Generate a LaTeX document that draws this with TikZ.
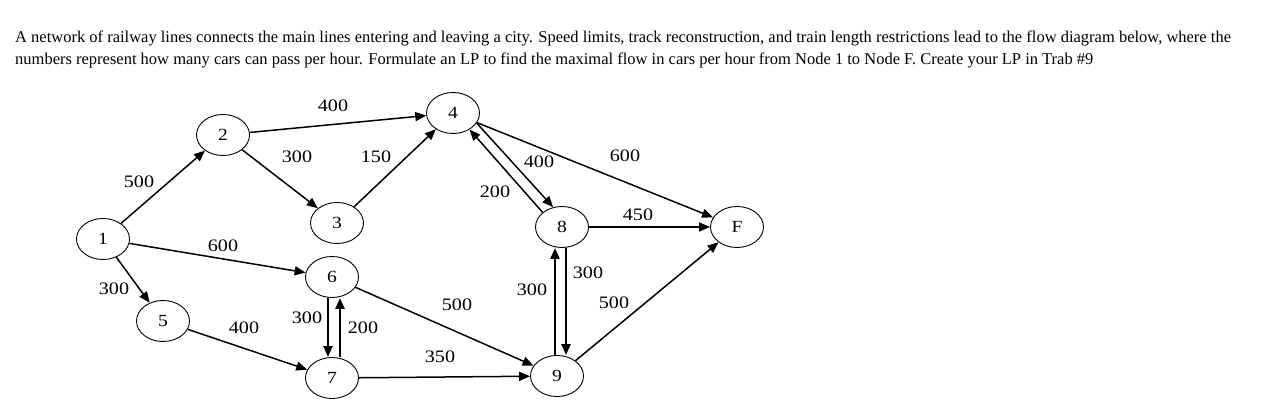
\documentclass[tikz,border=0pt]{standalone}
\usepackage{fontspec}
\setmainfont{Liberation Serif}
\newfontfamily\diagfont{Liberation Serif}[FakeStretch=1.15]
\usetikzlibrary{arrows.meta,shapes.geometric}

\begin{document}
\begin{tikzpicture}[
                x=1pt, y=-1pt,
                station/.style={
                    ellipse,
                    draw,
                    line width=0.9pt,
                    minimum width=53pt,
                    minimum height=41pt,
                    inner sep=0pt,
                    font=\diagfont\fontsize{17}{17}\selectfont
                },
                track/.style={
                    line width=1.5pt,
                    -{Triangle[length=11pt,width=9pt]}
                },
                twoway/.style={
                    line width=2.4pt,
                    -{Triangle[length=11pt,width=9pt]}
                },
                cars/.style={
                    inner sep=0pt,
                    font=\diagfont\fontsize{17.5}{17.5}\selectfont
                }
            ]

                \useasboundingbox (0,0) rectangle (1284,414);

                \node[anchor=north west, align=left, inner sep=0pt,
                      font=\fontsize{16.5}{22}\selectfont] (task) at (15,31)
                    {A network of railway lines connects the main lines entering and leaving a city. Speed limits, track reconstruction, and train length restrictions lead to the flow diagram below, where the\\
                     numbers represent how many cars can pass per hour. Formulate an LP to find the maximal flow in cars per hour from Node 1 to Node F. Create your LP in Trab \#9};

                \node[station] (n1) at (103,239) {1};
                \node[station] (n2) at (223,135) {2};
                \node[station] (n3) at (337,223) {3};
                \node[station] (n4) at (453,113) {4};
                \node[station] (n5) at (163,321) {5};
                \node[station] (n6) at (332,277) {6};
                \node[station] (n7) at (332,378) {7};
                \node[station] (n8) at (562,227) {8};
                \node[station] (n9) at (557,376) {9};
                \node[station] (nF) at (737,227) {F};

                \draw[track] (n1) -- (n2);
                \draw[track] (n1) -- (n5);
                \draw[track] (n1) -- (n6);
                \draw[track] (n2) -- (n4);
                \draw[track] (n2) -- (n3);
                \draw[track] (n3) -- (n4);
                \draw[track] (n5) -- (n7);
                \draw[track] (n6) -- (n9);
                \draw[track] (n7) -- (n9);
                \draw[track] (n4) -- (nF);
                \draw[track] (n8) -- (nF);
                \draw[track] (n9) -- (nF);

                % tracks used both ways
                \draw[track] (n4.-23) -- (n8.114);
                \draw[track] (n8.143) -- (n4.-45);
                \draw[twoway] ([xshift=-4]n6.south) -- ([xshift=-4]n7.north);
                \draw[twoway] ([xshift=8]n7.north) -- ([xshift=8]n6.south);
                \draw[twoway] ([xshift=4]n8.south) -- ([xshift=4]n8.south |- n9.north);
                \draw[twoway] ([xshift=-2]n9.north) -- ([xshift=-2]n9.north |- n8.south);

                \node[cars] (c12) at (139,182) {500};
                \node[cars] (c15) at (114,289) {300};
                \node[cars] (c16) at (223,246) {600};
                \node[cars] (c24) at (333,106) {400};
                \node[cars] (c23) at (297,157) {300};
                \node[cars] (c34) at (376,157) {150};
                \node[cars] (c57) at (244,328) {400};
                \node[cars] (c67) at (307,318) {300};
                \node[cars] (c76) at (363,328) {200};
                \node[cars] (c69) at (457,305) {500};
                \node[cars] (c79) at (440,357) {350};
                \node[cars] (c4F) at (625,156) {600};
                \node[cars] (c48) at (539,162) {400};
                \node[cars] (c84) at (495,192) {200};
                \node[cars] (c8F) at (638,215) {450};
                \node[cars] (c89) at (588,273) {300};
                \node[cars] (c98) at (532,290) {300};
                \node[cars] (c9F) at (614,303) {500};

            \end{tikzpicture}
\end{document}
